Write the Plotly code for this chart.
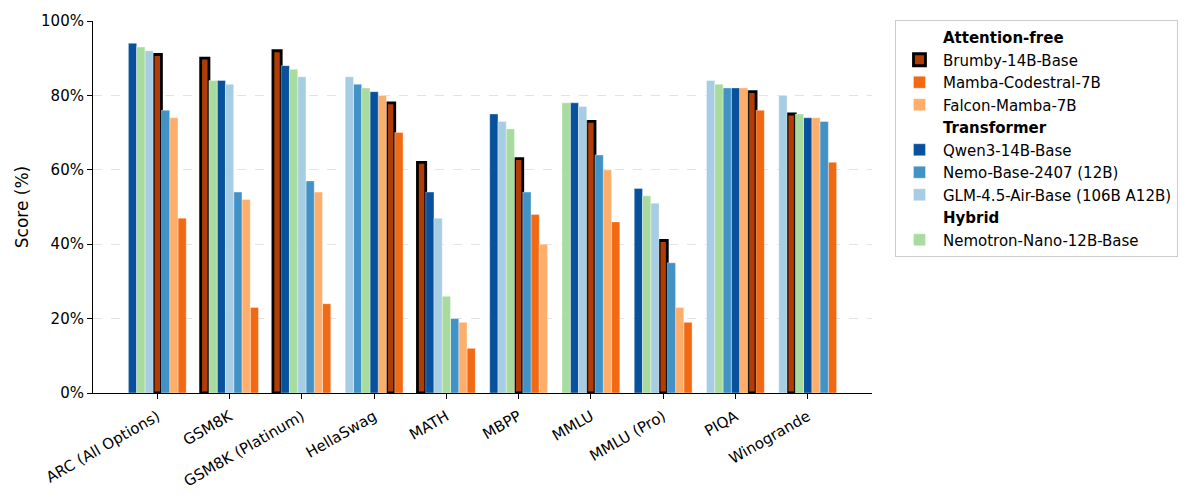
import plotly.graph_objects as go

categories = ["ARC (All Options)", "GSM8K", "GSM8K (Platinum)", "HellaSwag", "MATH",
              "MBPP", "MMLU", "MMLU (Pro)", "PIQA", "Winogrande"]

brumby = [91, 90, 92, 78, 62, 63, 73, 41, 81, 75]
mamba_codestral = [47, 23, 24, 70, 12, 48, 46, 19, 76, 62]
falcon_mamba = [74, 52, 54, 80, 19, 40, 60, 23, 82, 74]
qwen3 = [94, 84, 88, 81, 54, 75, 78, 55, 82, 74]
nemo = [76, 54, 57, 83, 20, 54, 64, 35, 82, 73]
glm = [92, 83, 85, 85, 47, 73, 77, 51, 84, 80]
nemotron = [93, 84, 87, 82, 26, 71, 78, 53, 83, 75]

y_ticks = [0, 20, 40, 60, 80, 100]
y_tick_labels = ["0%", "20%", "40%", "60%", "80%", "100%"]

groups = [
    ("Attention-free", [
        ("Brumby-14B-Base", brumby, "#b03c06", True),
        ("Mamba-Codestral-7B", mamba_codestral, "#f16913", False),
        ("Falcon-Mamba-7B", falcon_mamba, "#fdae6b", False),
    ]),
    ("Transformer", [
        ("Qwen3-14B-Base", qwen3, "#08519c", False),
        ("Nemo-Base-2407 (12B)", nemo, "#4292c6", False),
        ("GLM-4.5-Air-Base (106B A12B)", glm, "#a6cde3", False),
    ]),
    ("Hybrid", [
        ("Nemotron-Nano-12B-Base", nemotron, "#a8dc9f", False),
    ]),
]

# tie-break order used when scores are equal
tie_order = ["Brumby-14B-Base", "Nemotron-Nano-12B-Base", "Nemo-Base-2407 (12B)",
             "Qwen3-14B-Base", "Falcon-Mamba-7B", "GLM-4.5-Air-Base (106B A12B)",
             "Mamba-Codestral-7B"]

models = {}
for _, items in groups:
    for name, vals, color, hl in items:
        models[name] = vals

n_models = len(models)
bar_w = 0.8 / n_models

# position of each model's bar within each category (sorted descending by score)
positions = {name: [0.0] * len(categories) for name in models}
for i in range(len(categories)):
    ordered = sorted(tie_order, key=lambda m: (-models[m][i], tie_order.index(m)))
    for rank, m in enumerate(ordered):
        positions[m][i] = i + (rank - (n_models - 1) / 2) * bar_w

FONT = 15

fig = go.Figure()
for gname, items in groups:
    fig.add_trace(go.Scatter(
        x=[None], y=[None], mode="markers",
        marker=dict(size=1, opacity=0, color="white"),
        name=f"<b>{gname}</b>", showlegend=True, hoverinfo="skip"))
    for name, vals, color, hl in items:
        fig.add_trace(go.Bar(
            x=positions[name], y=vals, width=bar_w, name=name,
            marker=dict(color=color,
                        line=dict(color="black" if hl else "rgba(255,255,255,0.6)",
                                  width=2.8 if hl else 0.6)),
        ))

fig.update_layout(
    width=1200, height=500,
    margin=dict(l=85, r=336, t=13, b=115, autoexpand=False),
    plot_bgcolor="white", paper_bgcolor="white",
    font=dict(family="DejaVu Sans", size=FONT, color="black"),
    barmode="overlay",
    showlegend=True,
    legend=dict(
        x=1.0295, xanchor="left", y=1.0027, yanchor="top",
        bgcolor="white", bordercolor="#cccccc", borderwidth=1,
        font=dict(size=FONT), traceorder="normal", itemwidth=37,
    ),
)
fig.update_xaxes(
    range=[-0.89, 9.89], automargin=False,
    tickmode="array", tickvals=list(range(len(categories))), ticktext=categories,
    tickangle=-30, ticks="outside", ticklen=5, tickcolor="black",
    ticklabelstandoff=3,
    showline=True, linecolor="black", linewidth=1.1, showgrid=False, zeroline=False,
    tickfont=dict(size=FONT),
)
fig.update_yaxes(
    range=[0, 100], automargin=False,
    tickmode="array", tickvals=y_ticks, ticktext=y_tick_labels,
    ticks="outside", ticklen=5, tickcolor="black",
    showline=True, linecolor="black", linewidth=1.1,
    showgrid=True, gridcolor="#e3e3e3", griddash="dash", gridwidth=1, zeroline=False,
    title=dict(text="Score (%)", font=dict(size=FONT + 2), standoff=8),
    tickfont=dict(size=FONT),
)

fig.write_html("out.html")
